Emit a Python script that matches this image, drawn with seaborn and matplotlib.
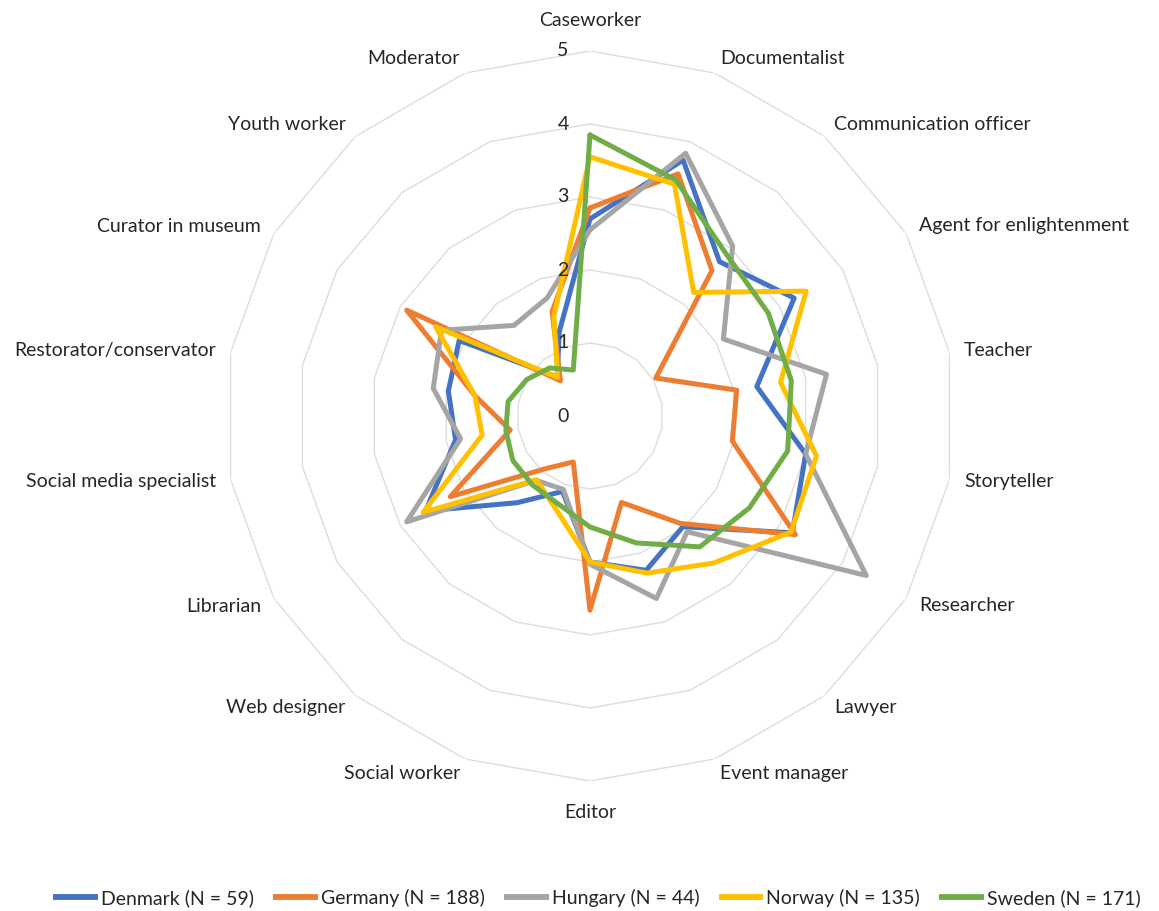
import numpy as np
import pandas as pd
import matplotlib
matplotlib.use("Agg")
import matplotlib.pyplot as plt
from matplotlib.transforms import ScaledTranslation
from matplotlib.lines import Line2D
import seaborn as sns

categories = ["Caseworker", "Documentalist", "Communication officer", "Agent for enlightenment",
              "Teacher", "Storyteller", "Researcher", "Lawyer", "Event manager", "Editor",
              "Social worker", "Web designer", "Librarian", "Social media specialist",
              "Restorator/conservator", "Curator in museum", "Youth worker", "Moderator"]

denmark = [2.70, 3.73, 2.76, 3.23, 2.32, 3.00, 3.20, 1.98, 2.25, 2.00, 1.10, 1.55, 2.60, 1.87, 1.97, 2.07, 0.70, 1.23]
germany = [2.85, 3.53, 2.60, 1.04, 2.04, 1.98, 3.25, 1.92, 1.26, 2.66, 0.67, 0.94, 2.21, 1.11, 1.60, 2.90, 0.63, 1.52]
hungary = [2.55, 3.83, 3.04, 2.11, 3.29, 3.00, 4.37, 2.07, 2.66, 2.03, 1.07, 1.15, 2.90, 1.80, 2.18, 2.35, 1.62, 1.72]
norway  = [3.55, 3.38, 2.21, 3.42, 2.65, 3.15, 3.18, 2.63, 2.29, 2.00, 1.36, 1.14, 2.64, 1.50, 1.60, 2.44, 0.69, 1.45]
sweden  = [3.85, 3.44, 2.90, 2.82, 2.80, 2.75, 2.52, 2.34, 1.85, 1.52, 1.28, 1.23, 1.22, 1.17, 1.14, 1.00, 0.86, 0.67]

series_names = ["Denmark (N = 59)", "Germany (N = 188)", "Hungary (N = 44)",
                "Norway (N = 135)", "Sweden (N = 171)"]
series_values = [denmark, germany, hungary, norway, sweden]
colors = ["#4472C4", "#ED7D31", "#A5A5A5", "#FFC000", "#70AD47"]
radial_ticks = [0, 1, 2, 3, 4, 5]

sns.set_theme(style="white")
plt.rcParams["font.family"] = ["Lato", "DejaVu Sans"]

n = len(categories)
theta = np.arange(n) * 2 * np.pi / n
theta_closed = np.append(theta, 2 * np.pi)

rows = []
for name, vals in zip(series_names, series_values):
    vv = list(vals) + [vals[0]]
    for t, v in zip(theta_closed, vv):
        rows.append({"theta": t, "value": v, "country": name})
df = pd.DataFrame(rows)

fig = plt.figure(figsize=(11.59, 9.11), dpi=100)
cx, cy = 590 / 1159, 1 - 416 / 911
rw, rh = 365 / 1159, 365 / 911
ax = fig.add_axes([cx - rw, cy - rh, 2 * rw, 2 * rh], projection="polar")
ax.set_theta_zero_location("N")
ax.set_theta_direction(-1)
ax.set_ylim(0, 5)
ax.set_xticks([])
ax.set_yticks([])
ax.grid(False)
ax.spines["polar"].set_visible(False)
ax.set_facecolor("none")

# polygon gridlines
for lvl in radial_ticks[1:]:
    ax.plot(theta_closed, [lvl] * (n + 1), color="#DDDDDD", lw=1.0, zorder=1)

sns.lineplot(data=df, x="theta", y="value", hue="country", sort=False,
             palette=dict(zip(series_names, colors)), linewidth=3.6,
             estimator=None, ax=ax, legend=False, zorder=3)
ax.set_xlabel("")
ax.set_ylabel("")
ax.set_ylim(0, 5)

txtc = "#262626"
# radial tick labels
off = ax.transData + ScaledTranslation(-27 / 100, 0, fig.dpi_scale_trans)
for lvl in radial_ticks:
    ax.text(0, lvl, str(lvl), transform=off, ha="center", va="center",
            fontsize=14, color=txtc)

# category labels
unit = 5 / 365
for t, lab in zip(theta, categories):
    s = np.sin(t)
    if abs(s) < 0.05:
        r = 396 * unit
        ha = "center"
    else:
        r = 380 * unit
        ha = "left" if s > 0 else "right"
    ax.text(t, r, lab, ha=ha, va="center", fontsize=14, color=txtc,
            clip_on=False)

handles = [Line2D([0], [0], color=c, lw=4.2, solid_capstyle="butt") for c in colors]
fig.legend(handles, series_names, loc="center", bbox_to_anchor=(0.515, 1 - 898 / 911),
           ncol=5, frameon=False, fontsize=14, handlelength=2.3,
           handletextpad=0.15, columnspacing=1.0, labelcolor=txtc)

fig.savefig("out.png", dpi=100)
